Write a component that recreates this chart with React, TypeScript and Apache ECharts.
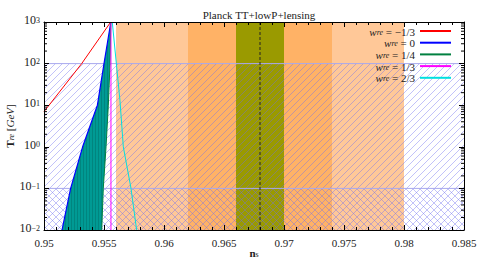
import React, { useEffect, useRef } from "react";
import * as echarts from "echarts";

const TITLE = "Planck TT+lowP+lensing";
const X_MIN = 0.95;
const X_MAX = 0.985;
const X_STEP = 0.005;
const Y_MIN = 0.01;
const Y_MAX = 1000;
const X_TICK_LABELS = ["0.95", "0.955", "0.96", "0.965", "0.97", "0.975", "0.98", "0.985"];
const Y_TICK_EXPONENTS = ["\u22122", "\u22121", "0", "1", "2", "3"];
const LOG_MINOR_MULT = [2, 3, 4, 5, 6, 7, 8, 9];
const LOG_DECADES = [0.01, 0.1, 1, 10, 100];

const SERIES_NAMES = ["w_re = \u22121/3", "w_re = 0", "w_re = 1/4", "w_re = 1/3", "w_re = 2/3"];

const redNs = [0.95, 0.95314, 0.95556];
const redT = [7, 100, 1000];
const blueNs = [0.9515, 0.95222, 0.95322, 0.95445, 0.955, 0.95557];
const blueT = [0.01, 0.1, 1, 10, 100, 1000];
const greenNs = [0.95481, 0.95494, 0.95517, 0.95536, 0.9555, 0.95557];
const greenT = [0.01, 0.1, 1, 10, 100, 1000];
const magentaNs = [0.95558, 0.95558];
const magentaT = [0.01, 1000];
const cyanNs = [0.95569, 0.95633, 0.95661, 0.95725, 0.95772];
const cyanT = [1000, 13, 1, 0.1, 0.01];

// bands: [ns from, ns to]
const bandLight = [0.956, 0.98];
const bandMid = [0.962, 0.974];
const bandCore = [0.966, 0.97];
const centralNs = 0.968;
// hatched T ranges
const hatchRange = [0.01, 100];
const crossRange = [0.01, 0.1];

const FONT = "Liberation Serif";

function zip(a: number[], b: number[]) {
  return a.map((v, i) => [v, b[i]]);
}

function makeHatch(size: number, dir: "/" | "\\", color: string) {
  const c = document.createElement("canvas");
  c.width = size;
  c.height = size;
  const g = c.getContext("2d")!;
  g.strokeStyle = color;
  g.lineWidth = 1;
  const segs =
    dir === "/"
      ? [
          [-1, size + 1, size + 1, -1],
          [-1, 1, 1, -1],
          [size - 1, size + 1, size + 1, size - 1],
        ]
      : [
          [-1, -1, size + 1, size + 1],
          [size - 1, -1, size + 1, 1],
          [-1, size - 1, 1, size + 1],
        ];
  for (const s of segs) {
    g.beginPath();
    g.moveTo(s[0], s[1]);
    g.lineTo(s[2], s[3]);
    g.stroke();
  }
  return { image: c, repeat: "repeat", imageWidth: size, imageHeight: size } as any;
}

function makeStripes() {
  const c = document.createElement("canvas");
  c.width = 3;
  c.height = 2;
  const g = c.getContext("2d")!;
  g.fillStyle = "#009a94";
  g.fillRect(0, 0, 2, 2);
  g.fillStyle = "#00857f";
  g.fillRect(2, 0, 1, 2);
  return { image: c, repeat: "repeat", imageWidth: 3, imageHeight: 2 } as any;
}

export default function App() {
  const ref = useRef<HTMLDivElement>(null);
  useEffect(() => {
    const chart = echarts.init(ref.current!, null, { renderer: "svg" });
    const hatchSlash = makeHatch(7, "/", "rgba(110,110,240,0.42)");
    const hatchBack = makeHatch(7, "\\", "rgba(110,110,240,0.42)");
    const teal = makeStripes();

    const bands = [bandLight, bandMid, bandCore];
    const bandColors = ["#ffc898", "#ffb266", "#9a9a00"];

    const rectItem = (x0: number, x1: number, y0: number, y1: number, api: any, style: any) => {
      const a = api.coord([x0, y1]);
      const b = api.coord([x1, y0]);
      return { type: "rect", shape: { x: a[0], y: a[1], width: b[0] - a[0], height: b[1] - a[1] }, style };
    };

    const minorVals: number[][] = [];
    LOG_DECADES.forEach((d) => LOG_MINOR_MULT.forEach((m) => minorVals.push([X_MIN, d * m])));

    const sub = { fontFamily: FONT, fontSize: 8, lineHeight: 8, padding: [5, 0, 0, 0], verticalAlign: "bottom", color: "#222" };
    const legendRich = {
      w: { fontFamily: FONT, fontSize: 11, lineHeight: 10, fontStyle: "italic", verticalAlign: "top", color: "#222" },
      s: { fontFamily: FONT, fontSize: 8, lineHeight: 8, padding: [2.5, 0, 0, 0], verticalAlign: "bottom", fontStyle: "italic", color: "#222" },
      t: { fontFamily: FONT, fontSize: 11, lineHeight: 10, verticalAlign: "top", color: "#222" },
    };

    const lineSeries = (name: string, ns: number[], t: number[], color: string, width: number) => ({
      name,
      type: "line",
      data: zip(ns, t),
      symbol: "none",
      smooth: false,
      lineStyle: { color, width },
      itemStyle: { color },
      z: 6,
      clip: true,
    });

    chart.setOption({
      animation: false,
      textStyle: { fontFamily: FONT, fontSize: 11, color: "#222" },
      title: {
        text: TITLE,
        left: 254,
        top: 4,
        textAlign: "center",
        textStyle: { fontFamily: FONT, fontSize: 11, fontWeight: "normal", color: "#222" },
      },
      grid: { left: 44, right: 14, top: 22, bottom: 28, containLabel: false, outerBoundsMode: "none" },
      legend: {
        data: SERIES_NAMES,
        orient: "vertical",
        right: 26,
        top: 25.5,
        padding: 0,
        align: "right",
        itemWidth: 31,
        itemHeight: 4,
        itemGap: 0.2,
        itemStyle: { opacity: 0 },
        selectedMode: false,
        formatter: (name: string) => {
          const rest = name.replace("w_re", "");
          return "{w|w}{s|re}{t|" + rest + "}";
        },
        textStyle: { rich: legendRich, fontFamily: FONT, fontSize: 11 },
      },
      xAxis: [
        {
          type: "value",
          position: "bottom",
          min: X_MIN,
          max: X_MAX,
          interval: X_STEP,
          z: 10,
          splitLine: { show: false },
          axisLine: { show: true, onZero: false, lineStyle: { color: "#000", width: 1 } },
          axisTick: { inside: true, length: 5, lineStyle: { color: "#000" } },
          minorTick: { show: true, splitNumber: 5, length: 3, lineStyle: { color: "#000" } },
          axisLabel: {
            margin: 7,
            fontFamily: FONT,
            fontSize: 11,
            color: "#222",
            formatter: (_v: number, i: number) => "{n|" + X_TICK_LABELS[i] + "}",
            rich: { n: { fontFamily: FONT, fontSize: 11, color: "#222" } },
          },
          name: "{b|n}{s|s}",
          nameLocation: "middle",
          nameGap: 17,
          nameMoveOverlap: false,
          nameTextStyle: {
            rich: {
              b: { fontFamily: FONT, fontSize: 11, lineHeight: 11, fontWeight: "bold", verticalAlign: "top", color: "#222" },
              s: { ...sub },
            },
          },
        },
        {
          type: "value",
          position: "top",
          min: X_MIN,
          max: X_MAX,
          interval: X_STEP,
          z: 10,
          splitLine: { show: false },
          axisLine: { show: true, onZero: false, lineStyle: { color: "#000", width: 1 } },
          axisTick: { inside: true, length: 5, lineStyle: { color: "#000" } },
          minorTick: { show: true, splitNumber: 5, length: 3, lineStyle: { color: "#000" } },
          axisLabel: { show: false },
        },
      ],
      yAxis: [
        {
          type: "log",
          logBase: 10,
          min: Y_MIN,
          max: Y_MAX,
          position: "left",
          z: 10,
          splitLine: { show: false },
          axisLine: { show: true, onZero: false, lineStyle: { color: "#000", width: 1 } },
          axisTick: { inside: true, length: 5, lineStyle: { color: "#000" } },
          axisLabel: {
            margin: 4,
            fontFamily: FONT,
            fontSize: 11,
            color: "#222",
            formatter: (_v: number, i: number) => "{b|10}{p|" + Y_TICK_EXPONENTS[i] + "}",
            rich: {
              b: { fontFamily: FONT, fontSize: 12, lineHeight: 12, verticalAlign: "bottom", color: "#222", padding: [0, 0, 2, 0] },
              p: { fontFamily: FONT, fontSize: 8, lineHeight: 8, padding: [0, 0, 8, 0], verticalAlign: "top", color: "#222" },
            },
          },
          name: "{b|T}{s|re} [{i|GeV}]",
          nameLocation: "middle",
          nameRotate: 90,
          nameGap: 29,
          nameMoveOverlap: false,
          nameTextStyle: {
            rich: {
              b: { fontFamily: FONT, fontSize: 11, lineHeight: 11, fontWeight: "bold", verticalAlign: "top", color: "#222" },
              s: { ...sub, fontStyle: "italic" },
              i: { fontFamily: FONT, fontSize: 11, lineHeight: 11, fontStyle: "italic", verticalAlign: "top", color: "#222" },
            },
          },
        },
        {
          type: "log",
          logBase: 10,
          min: Y_MIN,
          max: Y_MAX,
          position: "right",
          z: 10,
          splitLine: { show: false },
          axisLine: { show: true, onZero: false, lineStyle: { color: "#000", width: 1 } },
          axisTick: { inside: true, length: 5, lineStyle: { color: "#000" } },
          axisLabel: { show: false },
        },
      ],
      series: [
        {
          type: "custom",
          name: "bands",
          z: 1,
          silent: true,
          data: bands.map((b) => [b[0], b[1], Y_MIN, Y_MAX]),
          encode: { x: [0, 1], y: [2, 3] },
          renderItem: (params: any, api: any) =>
            rectItem(api.value(0), api.value(1), api.value(2), api.value(3), api, { fill: bandColors[params.dataIndex] }),
        },
        {
          type: "custom",
          name: "hatch",
          z: 2,
          silent: true,
          data: [
            [X_MIN, X_MAX, hatchRange[0], hatchRange[1]],
            [X_MIN, X_MAX, crossRange[0], crossRange[1]],
          ],
          encode: { x: [0, 1], y: [2, 3] },
          renderItem: (params: any, api: any) => {
            const x0 = api.value(0), x1 = api.value(1), y0 = api.value(2), y1 = api.value(3);
            const r = rectItem(x0, x1, y0, y1, api, { fill: params.dataIndex === 0 ? hatchSlash : hatchBack });
            const a = api.coord([x0, y1]);
            const b = api.coord([x1, y1]);
            return {
              type: "group",
              children: [
                r,
                { type: "line", shape: { x1: a[0], y1: a[1], x2: b[0], y2: b[1] }, style: { stroke: "#a8a8ee", lineWidth: 1 } },
              ],
            };
          },
        },
        {
          type: "custom",
          name: "teal",
          z: 3,
          silent: true,
          data: [[blueNs[0], blueT[0]]],
          renderItem: (_p: any, api: any) => {
            const pts = [
              ...zip(blueNs, blueT).map((p) => api.coord(p)),
              ...zip(greenNs, greenT).reverse().map((p) => api.coord(p)),
            ];
            return { type: "polygon", shape: { points: pts }, style: { fill: teal } };
          },
        },
        lineSeries(SERIES_NAMES[0], redNs, redT, "#ff0000", 1),
        lineSeries(SERIES_NAMES[1], blueNs, blueT, "#0000ff", 1.2),
        lineSeries(SERIES_NAMES[2], greenNs, greenT, "#008040", 1),
        lineSeries(SERIES_NAMES[3], magentaNs, magentaT, "#ff00ff", 1),
        lineSeries(SERIES_NAMES[4], cyanNs, cyanT, "#00e0e0", 1),
        {
          type: "line",
          name: "central",
          data: [
            [centralNs, Y_MIN],
            [centralNs, Y_MAX],
          ],
          symbol: "none",
          z: 7,
          lineStyle: { color: "#222", width: 1, type: [3, 2] },
        },
        {
          type: "custom",
          name: "minorTicks",
          z: 12,
          silent: true,
          clip: false,
          data: minorVals,
          renderItem: (_p: any, api: any) => {
            const l = api.coord([X_MIN, api.value(1)]);
            const r = api.coord([X_MAX, api.value(1)]);
            return {
              type: "group",
              children: [
                { type: "line", shape: { x1: l[0], y1: l[1], x2: l[0] + 3, y2: l[1] }, style: { stroke: "#000", lineWidth: 1 } },
                { type: "line", shape: { x1: r[0], y1: r[1], x2: r[0] - 3, y2: r[1] }, style: { stroke: "#000", lineWidth: 1 } },
              ],
            };
          },
        },
      ],
    });
    return () => chart.dispose();
  }, []);
  return <div ref={ref} style={{ width: 478, height: 258, position: "absolute", left: 0, top: 0 }} />;
}
